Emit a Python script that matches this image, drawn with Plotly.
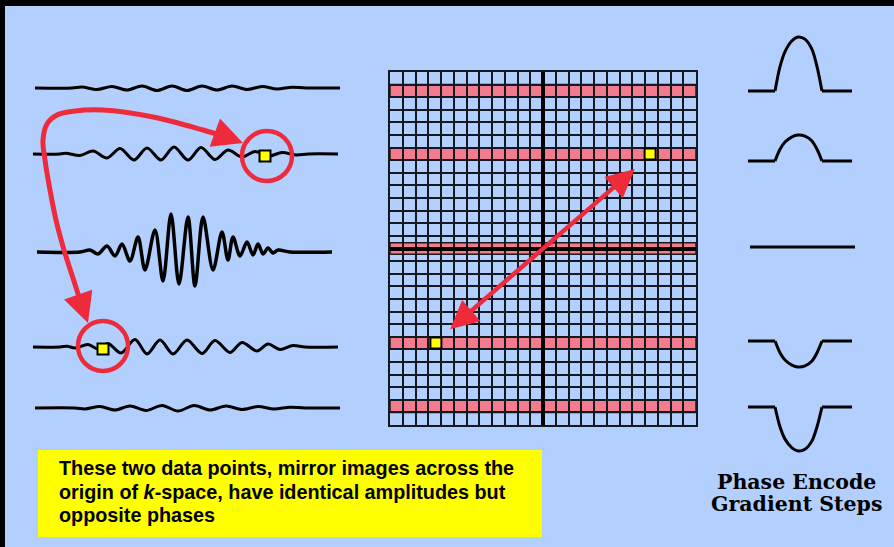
import plotly.graph_objects as go

# ---------------- data ----------------
# Echo signals (time sample, deflection). One list per phase-encode row.
sig1_t = [35, 72, 82, 97, 112, 127, 142, 157, 172, 187, 202, 217, 232, 247, 262, 277, 292, 306, 340]
sig1_a = [0, 0, 1, -1.5, 1.5, -2, 2, -2.5, 2, -2.5, 2, -2, 2, -1.5, 1.5, -1, 0.8, 0, 0]

sig2_t = [33, 60, 66, 80, 93, 107, 120, 134, 147, 161, 174, 188, 201, 215, 228, 242, 255, 269, 282, 296, 308, 338]
sig2_a = [0, 0, 0.8, -1.5, 3, -4, 5.5, -6, 6, -6, 7, -6, 6.5, -5.5, 4, -3, 2.5, -2, 1.5, -1, 0, 0]

sig3_t = [37, 80, 90, 98, 107, 115, 122, 130, 138, 145, 155, 163, 171, 179, 188, 195, 203, 213, 222, 228,
          233, 240, 247, 253, 258, 263, 268, 273, 278, 290, 332]
sig3_a = [0, 0, 2, -2, 6, -4, 8, -9, 15, -18, 22, -29, 38, -32, 35, -34, 35, -18, 20, -8,
          15, -4, 10, -3, 8, -2, 4, -1, 2, 0, 0]

sig4_t = [33, 60, 67, 75, 88, 98, 108, 121, 135, 147, 160, 173, 187, 202, 215, 230, 242, 257, 268, 280, 293, 305, 338]
sig4_a = [0, 0, 0.8, -1, 2.5, -2, 3.5, -6, 7.5, -7, 7, -7, 7, -6.5, 6.5, -5.5, 4.5, -4, 3, -2.5, 1.5, 0, 0]

sig5_t = [35, 75, 85, 100, 115, 130, 146, 162, 178, 194, 210, 226, 242, 258, 274, 290, 305, 340]
sig5_a = [0, 0, -1, 1.5, -2, 2, -2.5, 2.5, -3, 2.5, -2, 2, -1.5, 1.5, -1, 0.8, 0, 0]

signals_t = [sig1_t, sig2_t, sig3_t, sig4_t, sig5_t]
signals_a = [sig1_a, sig2_a, sig3_a, sig4_a, sig5_a]

# the two mirrored data points on the signals (sample time, row index)
echo_point_t = [265, 103]
echo_point_row = [1, 3]

# k-space
kx_cols = 24
ky_rows = 28
acquired_ky = [12.5, 7.5, 0, -7.5, -12.5]
kpoint_x = [8.4, -8.4]
kpoint_y = [7.5, -7.5]

# phase-encode gradient lobes
grad_amp = [54, 26, 0, -26, -44]
lobe_frac_t = [0, 0.106, 0.213, 0.362, 0.489, 0.638, 0.787, 0.894, 1]
lobe_frac_h = [0, 0.45, 0.73, 0.93, 1, 0.96, 0.77, 0.45, 0]

caption_lines = ["These two data points, mirror images across the",
                 "origin of <i>k</i>-space, have identical amplitudes but",
                 "opposite phases"]
label_lines = ["Phase Encode", "Gradient Steps"]

# ---------------- layout constants ----------------
W, H = 894, 547
BG = "#b3cffe"
RED = "#ee2b3b"
PINK = "#f47b8e"
sig_base = [88, 154, 252, 347, 408]
grad_base = [91, 161, 247, 341, 407]
grad_flat = (748, 775, 822, 852)

fig = go.Figure()

# signals
for i, (t, a, b) in enumerate(zip(signals_t, signals_a, sig_base)):
    fig.add_trace(go.Scatter(x=t, y=[b - v for v in a], mode="lines",
                             line=dict(color="black", width=3.5 if i == 2 else 3,
                                       shape="spline", smoothing=0.9),
                             hoverinfo="skip", xaxis="x", yaxis="y"))

# curved red arrow (path)
path_x = [80, 72, 64, 56, 50, 45, 43, 47, 57, 75, 103, 153, 203, 226]
path_y = [300, 275, 250, 220, 190, 160, 140, 124, 115, 111, 110, 117, 130, 137]
fig.add_trace(go.Scatter(x=path_x, y=path_y, mode="lines",
                         line=dict(color=RED, width=5, shape="spline", smoothing=1),
                         hoverinfo="skip", xaxis="x", yaxis="y"))

# yellow points on signals
fig.add_trace(go.Scatter(x=echo_point_t, y=[sig_base[r] + 2 for r in echo_point_row], mode="markers",
                         marker=dict(symbol="square", size=11, color="#ffff00",
                                     line=dict(color="black", width=2)),
                         hoverinfo="skip", xaxis="x", yaxis="y"))

# gradient lobes
x0f, x1f, x2f, x3f = grad_flat
for amp, b in zip(grad_amp, grad_base):
    if amp == 0:
        fig.add_trace(go.Scatter(x=[x0f + 2, x3f + 3], y=[b, b], mode="lines",
                                 line=dict(color="black", width=3), hoverinfo="skip",
                                 xaxis="x", yaxis="y"))
        continue
    lx = [x1f + f * (x2f - x1f) for f in lobe_frac_t]
    ly = [b - amp * h for h in lobe_frac_h]
    fig.add_trace(go.Scatter(x=[x0f, x1f], y=[b, b], mode="lines",
                             line=dict(color="black", width=3), hoverinfo="skip", xaxis="x", yaxis="y"))
    fig.add_trace(go.Scatter(x=[x2f, x3f], y=[b, b], mode="lines",
                             line=dict(color="black", width=3), hoverinfo="skip", xaxis="x", yaxis="y"))
    fig.add_trace(go.Scatter(x=lx, y=ly, mode="lines",
                             line=dict(color="black", width=3, shape="spline", smoothing=0.8),
                             hoverinfo="skip", xaxis="x", yaxis="y"))

# k-space points
fig.add_trace(go.Scatter(x=kpoint_x, y=kpoint_y, mode="markers",
                         marker=dict(symbol="square", size=11, color="#ffff00",
                                     line=dict(color="black", width=2)),
                         hoverinfo="skip", xaxis="x2", yaxis="y2"))

shapes = [
    dict(type="rect", xref="paper", yref="paper", x0=0, x1=1, y0=1 - 6 / H, y1=1,
         fillcolor="black", line=dict(width=0), layer="above"),
    dict(type="rect", xref="paper", yref="paper", x0=0, x1=5 / W, y0=0, y1=1,
         fillcolor="black", line=dict(width=0), layer="above"),
    dict(type="rect", xref="x", yref="y", x0=38, x1=542, y0=450, y1=537,
         fillcolor="#ffff00", line=dict(width=0), layer="below"),
    dict(type="circle", xref="x", yref="y", x0=242, x1=292, y0=131, y1=181,
         line=dict(color=RED, width=4.5), layer="above"),
    dict(type="circle", xref="x", yref="y", x0=78, x1=128, y0=321, y1=371,
         line=dict(color=RED, width=4.5), layer="above"),
]
for c in acquired_ky:
    h = 0.45 if c == 0 else 0.5
    shapes.append(dict(type="rect", xref="x2", yref="y2", x0=-kx_cols / 2, x1=kx_cols / 2,
                       y0=c - h, y1=c + h, fillcolor=PINK,
                       line=dict(color="#1a1a1a", width=1.5), layer="below"))

annotations = [
    dict(x=243, y=143, ax=224, ay=136, xref="x", yref="y", axref="x", ayref="y",
         showarrow=True, arrowhead=2, arrowsize=1.2, arrowwidth=5, arrowcolor=RED, text=""),
    dict(x=88, y=323, ax=80, ay=300, xref="x", yref="y", axref="x", ayref="y",
         showarrow=True, arrowhead=2, arrowsize=1.2, arrowwidth=5, arrowcolor=RED, text=""),
    dict(x=7.2, y=6.3, ax=-7.4, ay=-6.5, xref="x2", yref="y2", axref="x2", ayref="y2",
         showarrow=True, arrowhead=2, arrowsize=1.25, arrowwidth=4.5, arrowcolor=RED,
         arrowside="end+start", text=""),
]
for i, ln in enumerate(caption_lines):
    annotations.append(dict(x=57, y=468 + 23.5 * i, xref="x", yref="y", text="<b>" + ln + "</b>",
                            showarrow=False, xanchor="left", yanchor="middle",
                            font=dict(family="Liberation Sans, Arial", size=19.8, color="black")))
for i, ln in enumerate(label_lines):
    annotations.append(dict(x=796, y=482 + 22 * i, xref="x", yref="y", text="<b>" + ln + "</b>",
                            showarrow=False, xanchor="center", yanchor="middle",
                            font=dict(family="DejaVu Serif", size=20.5, color="black")))

noax = dict(visible=False, showgrid=False, zeroline=False)
fig.update_layout(
    width=W, height=H, margin=dict(l=0, r=0, t=0, b=0),
    paper_bgcolor=BG, plot_bgcolor="rgba(0,0,0,0)", showlegend=False,
    xaxis=dict(range=[0, W], domain=[0, 1], **noax),
    yaxis=dict(range=[H, 0], domain=[0, 1], **noax),
    xaxis2=dict(range=[-kx_cols / 2, kx_cols / 2], domain=[390 / W, 696 / W], anchor="y2",
                dtick=1, tick0=0, showgrid=True, gridcolor="#141821", gridwidth=2,
                zeroline=True, zerolinecolor="black", zerolinewidth=3.5,
                showline=True, mirror=True, linecolor="#141821", linewidth=2,
                showticklabels=False, ticks=""),
    yaxis2=dict(range=[-ky_rows / 2, ky_rows / 2], domain=[1 - 425 / H, 1 - 72 / H], anchor="x2",
                dtick=1, tick0=0, showgrid=True, gridcolor="#141821", gridwidth=2,
                zeroline=True, zerolinecolor="black", zerolinewidth=3.5,
                showline=True, mirror=True, linecolor="#141821", linewidth=2,
                showticklabels=False, ticks=""),
    shapes=shapes, annotations=annotations,
)

fig.write_html("out.html", config={"displayModeBar": False},
               post_script="document.body.style.margin='0';")
